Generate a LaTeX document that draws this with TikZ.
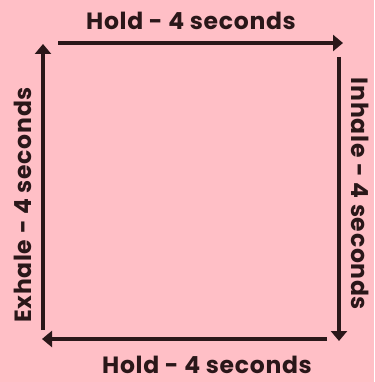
\documentclass[tikz,border=0pt]{standalone}
\usepackage{fontspec}
\setmainfont{Poppins}[LetterSpace=3]
\usetikzlibrary{arrows.meta}
\definecolor{bgpink}{HTML}{FFBFC6}
\definecolor{inkdark}{HTML}{2A1719}

\begin{document}
\begin{tikzpicture}[x=1pt, y=-1pt, -{Triangle[length=10pt, width=16pt]}, line width=3.5pt, draw=inkdark]
    \tikzset{lbl/.style={text=inkdark, font=\fontsize{23.5}{23.5}\selectfont\bfseries, inner sep=0pt}}
    % background
    \fill[bgpink] (0,0) rectangle (374,382);
    \useasboundingbox (0,0) rectangle (374,382);
    % ends of the four arrows (clockwise from the top)
    \coordinate (tops) at (58,43);  \coordinate (tope) at (343,43);
    \coordinate (rgts) at (339,57); \coordinate (rgte) at (339,341);
    \coordinate (bots) at (327,339); \coordinate (bote) at (42,339);
    \coordinate (lfts) at (43,330); \coordinate (lfte) at (43,44);
    % labels
    \node[lbl] (hold1) at (191,21) {Hold - 4 seconds};
    \node[lbl, rotate=-90] (inhale) at (360,194) {Inhale - 4 seconds};
    \node[lbl] (hold2) at (207,365) {Hold - 4 seconds};
    \node[lbl, rotate=90] (exhale) at (23,205) {Exhale - 4 seconds};
    % arrows
    \draw (tops) -- (tope);
    \draw (rgts) -- (rgte);
    \draw (bots) -- (bote);
    \draw (lfts) -- (lfte);
\end{tikzpicture}
\end{document}
